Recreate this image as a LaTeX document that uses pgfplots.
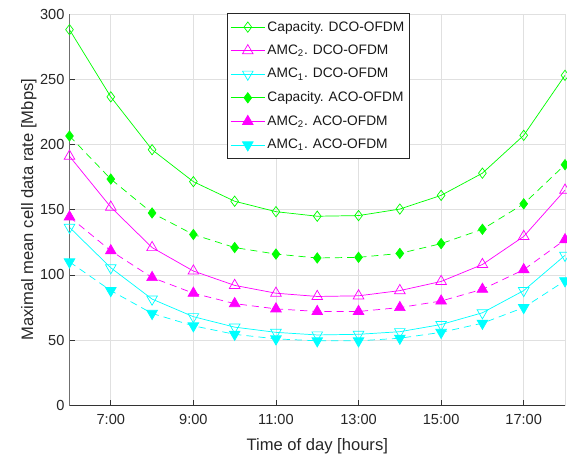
\documentclass[border=0pt]{standalone}
\usepackage{fontspec}
\setmainfont{Liberation Sans}
\usepackage{pgfplots}
\pgfplotsset{compat=1.18}
\definecolor{mgreen}{rgb}{0,1,0}
\definecolor{mmag}{rgb}{1,0,1}
\definecolor{mcyan}{rgb}{0,1,1}
\begin{document}
\begin{tikzpicture}
\begin{axis}[
  scale only axis,
  width=346.5bp, height=273.7bp,
  xmin=6, xmax=18, ymin=0, ymax=300,
  xtick={7,9,11,13,15,17},
  xticklabels={7:00,9:00,11:00,13:00,15:00,17:00},
  ytick={0,50,100,150,200,250,300},
  /pgf/number format/assume math mode=true,
  tick label style={font=\fontsize{10.2bp}{12bp}\selectfont, text=black!85},
  xticklabel style={yshift=-3bp},
  tick pos=left,
  tick align=inside,
  major tick length=3.5bp,
  tick style={black!80, line width=0.5bp},
  grid=major,
  major grid style={black!12, line width=0.5bp},
  axis line style={draw=black!12, line width=0.5bp},
  xlabel={Time of day [hours]},
  ylabel={Maximal mean cell data rate [Mbps]},
  label style={font=\fontsize{11.6bp}{13bp}\selectfont, text=black!85},
  xlabel style={at={(axis description cs:0.5,0)}, anchor=base, yshift=-31.5bp},
  ylabel style={at={(axis description cs:-0.0736,0.5)}, anchor=base},
  legend style={at={(axis description cs:0.318,1.003)}, anchor=north west,
    font=\fontsize{9.6bp}{11bp}\selectfont, draw=black!85, line width=0.5bp,
    row sep=5.2bp, inner xsep=2bp, inner ysep=4bp,
    nodes={inner sep=1.5bp, text=black!90}},
  legend cell align=left,
  legend image code/.code={\draw[solid, mark repeat=2, mark phase=2] plot coordinates {(0bp,0bp) (12bp,0bp) (24bp,0bp)};},
  every axis plot/.append style={line width=0.5bp},
]
\coordinate (SW) at (rel axis cs:0,0);
\coordinate (NE) at (rel axis cs:1,1);
% Capacity DCO
\addplot[mgreen, mark=diamond, mark size=3.6bp, mark options={solid}] coordinates {
(6,288) (7,236.5) (8,196) (9,171.5) (10,156.5) (11,148.5) (12,145) (13,145.5) (14,150.5) (15,161) (16,178) (17,207) (18,253)};
\addlegendentry{Capacity. DCO-OFDM}
% AMC2 DCO
\addplot[mmag, mark=triangle, mark size=4.3bp, mark options={solid}] coordinates {
(6,191) (7,152) (8,121) (9,103) (10,92) (11,86) (12,83.5) (13,84) (14,88) (15,95) (16,108) (17,129.5) (18,165)};
\addlegendentry{AMC\textsubscript{2}. DCO-OFDM}
% AMC1 DCO
\addplot[mcyan, mark=triangle, mark size=4.3bp, mark options={solid, rotate=180}] coordinates {
(6,136.5) (7,105.5) (8,81.5) (9,68) (10,60) (11,56) (12,54) (13,54.5) (14,56.5) (15,62) (16,71) (17,88) (18,115)};
\addlegendentry{AMC\textsubscript{1}. DCO-OFDM}
% Capacity ACO
\addplot[mgreen, dash pattern=on 5bp off 3.5bp, mark=diamond*, mark size=3.6bp, mark options={solid}] coordinates {
(6,206.5) (7,173.5) (8,147.5) (9,131) (10,121) (11,116) (12,113) (13,113.5) (14,116.5) (15,124) (16,135) (17,154.5) (18,184.5)};
\addlegendentry{Capacity. ACO-OFDM}
% AMC2 ACO
\addplot[mmag, dash pattern=on 5bp off 3.5bp, mark=triangle*, mark size=4.3bp, mark options={solid}] coordinates {
(6,144.5) (7,118.5) (8,98) (9,86) (10,78) (11,74) (12,72) (13,72) (14,75) (15,80) (16,89) (17,104) (18,127)};
\addlegendentry{AMC\textsubscript{2}. ACO-OFDM}
% AMC1 ACO
\addplot[mcyan, dash pattern=on 5bp off 3.5bp, mark=triangle*, mark size=4.3bp, mark options={solid, rotate=180}] coordinates {
(6,110) (7,88) (8,70.5) (9,61) (10,54.5) (11,51) (12,49.5) (13,49.5) (14,51.5) (15,56) (16,63) (17,75) (18,95.5)};
\addlegendentry{AMC\textsubscript{1}. ACO-OFDM}
\draw[black!80, line width=0.6bp] (rel axis cs:0,1) -- (rel axis cs:0,0) -- (rel axis cs:1,0);
\end{axis}
\pgfresetboundingbox
\path[use as bounding box] ([xshift=-48.6bp,yshift=-36.4bp]SW) rectangle ([xshift=1.4bp,yshift=9.8bp]NE);
\end{tikzpicture}
\end{document}
